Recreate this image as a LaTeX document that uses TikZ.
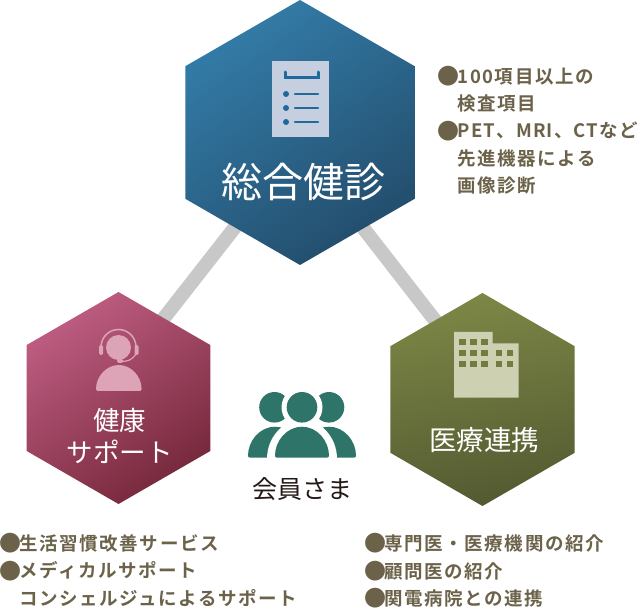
\documentclass[tikz,border=0pt]{standalone}
\usepackage{fontspec}
\setmainfont{Noto Sans CJK JP}
\newfontfamily\listfont[LetterSpace=8.5,BoldFont={Noto Sans CJK JP Bold}]{Noto Sans CJK JP}
\newfontfamily\tightfont[LetterSpace=6.5,BoldFont={Noto Sans CJK JP Bold}]{Noto Sans CJK JP}
\usepackage{xcolor}
\usetikzlibrary{shapes.geometric, backgrounds}
\definecolor{linkgray}{HTML}{C8C8C8}
\definecolor{listbrown}{HTML}{6B6249}
\definecolor{blueA}{HTML}{337CA8}
\definecolor{blueB}{HTML}{234D6C}
\definecolor{redA}{HTML}{BE5D82}
\definecolor{redB}{HTML}{76283B}
\definecolor{oliveA}{HTML}{7C8746}
\definecolor{oliveB}{HTML}{545A31}
\definecolor{iconblue}{HTML}{C5CFE0}
\definecolor{markblue}{HTML}{21699C}
\definecolor{iconred}{HTML}{DCA4B6}
\definecolor{iconolive}{HTML}{CED0B2}
\definecolor{windowolive}{HTML}{737B41}
\definecolor{peoplegreen}{HTML}{2E7468}
\definecolor{memberblack}{HTML}{231815}
\newcommand{\listmark}{\makebox[18.5pt][c]{\raisebox{-1.2pt}[0pt][0pt]{\fontsize{22}{22}\selectfont ●}}}
\newcommand{\hangline}{\hspace*{18.5pt}}

\begin{document}
\begin{tikzpicture}[x=1pt, y=-1pt]
        % 스타일 정의
        \tikzset{hexbox/.style={regular polygon, regular polygon sides=6, shape border rotate=30, inner sep=0pt, outer sep=0pt}}
        \tikzset{linkline/.style={draw=linkgray, line width=14pt}}
        \tikzset{hexlabel/.style={text=white, align=center}}
        \tikzset{listtext/.style={text=listbrown, anchor=west, align=left, font=\listfont\bfseries\fontsize{18.5}{27.3}\selectfont}}

        \useasboundingbox (0,0) rectangle (640,609);

        % 1. 육각형
        \node[hexbox, minimum size=265pt, top color=blueA, bottom color=blueB, shading angle=35] (kenshin) at (300,132.5) {};
        \node[hexbox, minimum size=212pt, top color=redA, bottom color=redB, shading angle=35] (support) at (118.5,398) {};
        \node[hexbox, minimum size=213pt, top color=oliveA, bottom color=oliveB, shading angle=10] (iryo) at (482.5,399.5) {};

        % 2. 연결선
        \begin{scope}[on background layer]
            \draw[linkline] ([xshift=9pt]kenshin.center) -- ([xshift=-17pt]support.center);
            \draw[linkline] ([xshift=-11pt]kenshin.center) -- ([xshift=14pt]iryo.center);
        \end{scope}

        % 3. 검사 아이콘
        \fill[iconblue] (272,61) rectangle (329,137);
        \draw[markblue, line width=3pt, line cap=round] (285,72) -- (285,77.5) -- (318,77.5) -- (318,72);
        \foreach \y in {94,108,122} {
            \fill[markblue] (286,\y) circle (3);
            \draw[markblue, line width=2.5pt, line cap=round] (295,\y) -- (318,\y);
        }

        % 4. 헤드셋 아이콘
        \fill[iconred] (118.5,347.5) circle (12.5);
        \draw[iconred, line width=1.5pt] (101,347) arc[start angle=180, end angle=360, x radius=17.5, y radius=17.5];
        \fill[iconred, rounded corners=1.5pt] (99,345) rectangle (103,355);
        \fill[iconred, rounded corners=1.5pt] (134.5,345) rectangle (138.5,355);
        \draw[iconred, line width=1.2pt] (136,354) to[bend left=35] (120,361);
        \fill[iconred, rounded corners=1.5pt] (117,359) rectangle (123,363);
        \fill[iconred, rounded corners=2pt] (96,391) arc[start angle=180, end angle=360, x radius=22.8, y radius=26] -- cycle;

        % 5. 건물 아이콘
        \fill[iconolive] (454,332) -- (492.7,332) -- (492.7,343.3) -- (518.7,343.3) -- (518.7,397.7) -- (454,397.7) -- cycle;
        \foreach \x in {459,470,481} {
            \foreach \y in {338.7,349.7,360.7} {
                \fill[windowolive] (\x,\y) rectangle +(6.7,6.5);
            }
        }
        \foreach \x in {495.7,506.7} {
            \foreach \y in {349.7,360.7} {
                \fill[windowolive] (\x,\y) rectangle +(6.7,6.5);
            }
        }

        % 6. 회원 아이콘
        \fill[peoplegreen] (274.5,407.3) circle (15.3);
        \fill[peoplegreen] (329,407.3) circle (15.3);
        \fill[peoplegreen, rounded corners=2pt] (248,457.7) arc[start angle=180, end angle=360, x radius=27, y radius=31] -- cycle;
        \fill[peoplegreen, rounded corners=2pt] (302,457.7) arc[start angle=180, end angle=360, x radius=27, y radius=31] -- cycle;
        \fill[white] (302,407.3) circle (20.5);
        \fill[white] (267,459) arc[start angle=180, end angle=360, x radius=35, y radius=39] -- cycle;
        \fill[peoplegreen] (302,407.3) circle (15.3);
        \fill[peoplegreen, rounded corners=2pt] (275,457.7) arc[start angle=180, end angle=360, x radius=27, y radius=31] -- cycle;

        % 7. 글자
        \node[hexlabel, font=\fontsize{41}{41}\selectfont] (kenshinlabel) at (303.5,182) {総合健診};
        \node[hexlabel, font=\fontsize{26.5}{32}\selectfont] (supportlabel) at (119.5,435.5) {健康\\サポート};
        \node[hexlabel, font=\fontsize{27.5}{27.5}\selectfont] (iryolabel) at (484,440) {医療連携};
        \node[text=memberblack, font=\fontsize{25}{25}\selectfont] (member) at (302.5,489) {会員さま};

        \node[listtext] (kenshinlist) at (435.5,131) {\listmark 100項目以上の\\\hangline 検査項目\\\listmark {\tightfont PET、MRI、CTなど}\\\hangline 先進機器による\\\hangline 画像診断};
        \node[listtext] (supportlist) at (-2.5,570.5) {\listmark 生活習慣改善サービス\\\listmark メディカルサポート\\\hangline コンシェルジュによるサポート};
        \node[listtext] (iryolist) at (362.5,571) {\listmark 専門医・医療機関の紹介\\\listmark 顧問医の紹介\\\listmark 関電病院との連携};
    \end{tikzpicture}
\end{document}
